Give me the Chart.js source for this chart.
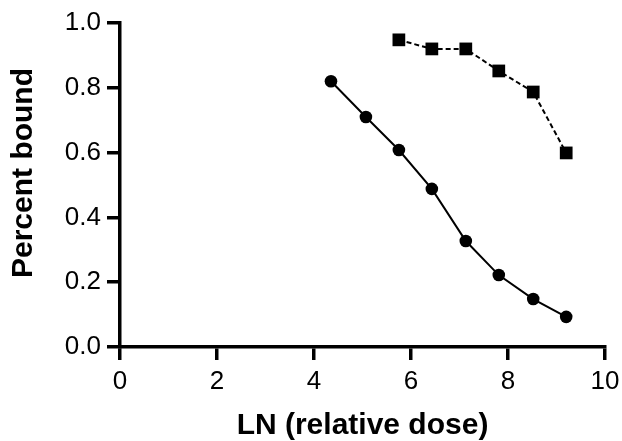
<!DOCTYPE html>
<html>
<head>
<meta charset="utf-8">
<script src="https://cdn.jsdelivr.net/npm/chart.js@4.4.1/dist/chart.umd.min.js"></script>
<style>
    html, body { margin: 0; padding: 0; background: #fff; }
    #wrap { width: 622px; height: 441px; }
</style>
</head>
<body>
<div id="wrap"><canvas id="chart" width="622" height="441"></canvas></div>
<script>
// valores
const doseCirculos = [4.35, 5.07, 5.75, 6.43, 7.13, 7.81, 8.52, 9.2];
const boundCirculos = [0.82, 0.71, 0.608, 0.488, 0.327, 0.222, 0.148, 0.093];
const doseQuadrados = [5.75, 6.43, 7.13, 7.81, 8.52, 9.2];
const boundQuadrados = [0.948, 0.92, 0.92, 0.852, 0.787, 0.599];

const tituloX = "LN (relative dose)";
const tituloY = "Percent bound";

const fonte = "'Liberation Sans', Arial, Helvetica, sans-serif";

function pontos(xs, ys) {
    return xs.map((x, i) => ({ x: x, y: ys[i] }));
}

const eixo = {
    border: { display: true, color: "#000", width: 3.5 },
    grid: {
        display: true,
        drawOnChartArea: false,
        drawTicks: true,
        tickLength: 13,
        color: "#000",
        lineWidth: 3.5
    }
};

// titulo do eixo y um pouco acima do centro, como no original
const tituloYPlugin = {
    id: "tituloY",
    afterDraw(chart) {
        const ctx = chart.ctx;
        ctx.save();
        ctx.translate(24, 173);
        ctx.rotate(-Math.PI / 2);
        ctx.font = "bold 30px " + fonte;
        ctx.fillStyle = "#000";
        ctx.textAlign = "center";
        ctx.textBaseline = "middle";
        ctx.fillText(tituloY, 0, 0);
        ctx.restore();
    }
};

new Chart(document.querySelector("#chart"), {
    type: "scatter",
    data: {
        datasets: [{
            data: pontos(doseCirculos, boundCirculos),
            showLine: true,
            borderColor: "#000",
            backgroundColor: "#000",
            borderWidth: 2,
            pointStyle: "circle",
            pointRadius: 6.3,
            pointBorderWidth: 0
        }, {
            data: pontos(doseQuadrados, boundQuadrados),
            showLine: true,
            borderColor: "#000",
            backgroundColor: "#000",
            borderWidth: 2,
            borderDash: [5, 3],
            pointStyle: "rect",
            pointRadius: 9,
            pointBorderWidth: 0
        }]
    },
    plugins: [tituloYPlugin],
    options: {
        responsive: false,
        animation: false,
        layout: { padding: { top: 23, right: 17, left: 0, bottom: 0 } },
        plugins: {
            legend: { display: false },
            tooltip: { enabled: false }
        },
        scales: {
            x: {
                type: "linear",
                min: 0,
                max: 10,
                ...eixo,
                ticks: {
                    stepSize: 2,
                    color: "#000",
                    padding: 6,
                    font: { family: fonte, size: 26 }
                },
                title: {
                    display: true,
                    text: tituloX,
                    color: "#000",
                    padding: { top: 0, bottom: -3 },
                    font: { family: fonte, size: 30, weight: "bold" }
                },
                afterFit: function (scale) {
                    scale.height = 94;
                    scale.paddingLeft = 0;
                    scale.paddingRight = 0;
                }
            },
            y: {
                type: "linear",
                min: 0,
                max: 1,
                ...eixo,
                ticks: {
                    stepSize: 0.2,
                    color: "#000",
                    padding: 6,
                    font: { family: fonte, size: 26 },
                    callback: v => v.toFixed(1)
                },
                title: { display: false },
                afterFit: function (scale) {
                    scale.width = 120;
                    scale.paddingTop = 0;
                    scale.paddingBottom = 0;
                }
            }
        }
    }
});
</script>
</body>
</html>
